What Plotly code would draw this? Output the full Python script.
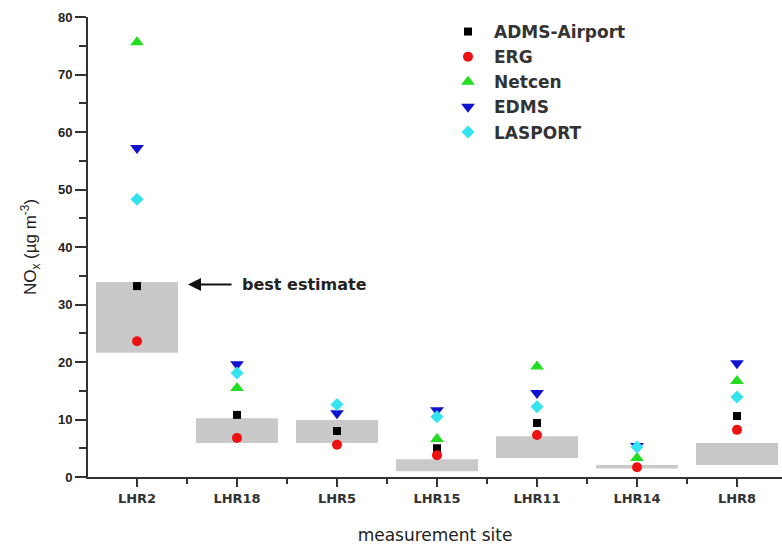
import plotly.graph_objects as go

# Measurement sites and modelled NOx (µg m-3) per model
sites = ["LHR2", "LHR18", "LHR5", "LHR15", "LHR11", "LHR14", "LHR8"]

adms_airport = [33.2, 10.8, 8.0, 5.0, 9.4, None, 10.6]
erg = [23.6, 6.8, 5.6, 3.8, 7.3, 1.7, 8.2]
netcen = [75.6, 15.5, None, 6.6, 19.2, 3.3, 16.7]
edms = [57.2, 19.6, 11.1, 11.6, 14.6, 5.4, 19.8]
lasport = [48.3, 18.1, 12.6, 10.5, 12.2, 5.2, 13.9]

# Best-estimate range (low, high) per site
best_low = [21.6, 5.9, 5.9, 1.0, 3.3, 1.5, 2.1]
best_high = [33.9, 10.2, 9.9, 3.1, 7.1, 2.1, 5.9]

x = list(range(len(sites)))

fig = go.Figure()

# Grey bands for the best-estimate range
fig.add_trace(go.Bar(
    x=x, y=[h - l for h, l in zip(best_high, best_low)], base=best_low,
    width=0.82, marker=dict(color="#c9c9c9", line=dict(width=0)),
    showlegend=False, hoverinfo="skip",
))

series = [
    ("ADMS-Airport", adms_airport, "square", "#000000", 8),
    ("ERG", erg, "circle", "#ee1111", 10),
    ("Netcen", netcen, "triangle-up", "#22dd22", 12),
    ("EDMS", edms, "triangle-down", "#1111d0", 12),
    ("LASPORT", lasport, "diamond", "#33e3ef", 10),
]
for name, vals, sym, col, sz in series:
    fig.add_trace(go.Scatter(
        x=x, y=vals, mode="markers", name=name,
        marker=dict(symbol=sym, color=col, size=sz, line=dict(width=0)),
    ))

axis_col = "#333333"
fig.update_layout(
    width=782, height=549,
    margin=dict(l=88, r=0, t=17, b=72),
    paper_bgcolor="white", plot_bgcolor="white",
    barmode="overlay",
    showlegend=True,
    legend=dict(
        x=(442 - 88) / 694, y=1 + 3 / 460, xanchor="left", yanchor="top",
        font=dict(family="DejaVu Sans", size=17, color="#333333", weight="bold"),
        bgcolor="rgba(0,0,0,0)", tracegroupgap=0, itemwidth=42,
    ),
    xaxis=dict(
        range=[-0.49, 6.45], tickmode="array", tickvals=x, ticktext=sites,
        showgrid=False, zeroline=False,
        showline=True, linecolor=axis_col, linewidth=2,
        ticks="outside", ticklen=8, tickwidth=2, tickcolor=axis_col,
        tickfont=dict(family="DejaVu Sans", size=13, color="#333333", weight="bold"),
        minor=dict(tickmode="linear", tick0=0.5, dtick=1, ticks="outside",
                   ticklen=5, tickwidth=2, tickcolor=axis_col),
        title=dict(text="measurement site", standoff=25,
                   font=dict(family="DejaVu Sans", size=17, color="#222222")),
    ),
    yaxis=dict(
        range=[0, 80], dtick=10, tick0=0,
        showgrid=False, zeroline=False,
        showline=True, linecolor=axis_col, linewidth=2,
        ticks="outside", ticklen=11, tickwidth=2, tickcolor=axis_col,
        tickfont=dict(family="Liberation Sans", size=13, color="#222222", weight="bold"),
        minor=dict(tickmode="linear", tick0=5, dtick=10, ticks="outside",
                   ticklen=7, tickwidth=2, tickcolor=axis_col),
        title=dict(text="NO<sub>x</sub> (µg m<sup>-3</sup>)", standoff=17,
                   font=dict(family="Liberation Sans", size=17, color="#222222")),
    ),
)

# "best estimate" arrow and label
fig.add_annotation(
    x=0.51, y=33.5, ax=0.96, ay=33.5, xref="x", yref="y", axref="x", ayref="y",
    text="", showarrow=True, arrowhead=2, arrowsize=1.3, arrowwidth=2,
    arrowcolor="#111111",
)
fig.add_annotation(
    x=1.03, y=33.5, xref="x", yref="y", xanchor="left", yanchor="middle",
    text="best estimate", showarrow=False,
    font=dict(family="DejaVu Sans", size=16, color="#222222", weight="bold"),
)

fig.write_html("out.html")
